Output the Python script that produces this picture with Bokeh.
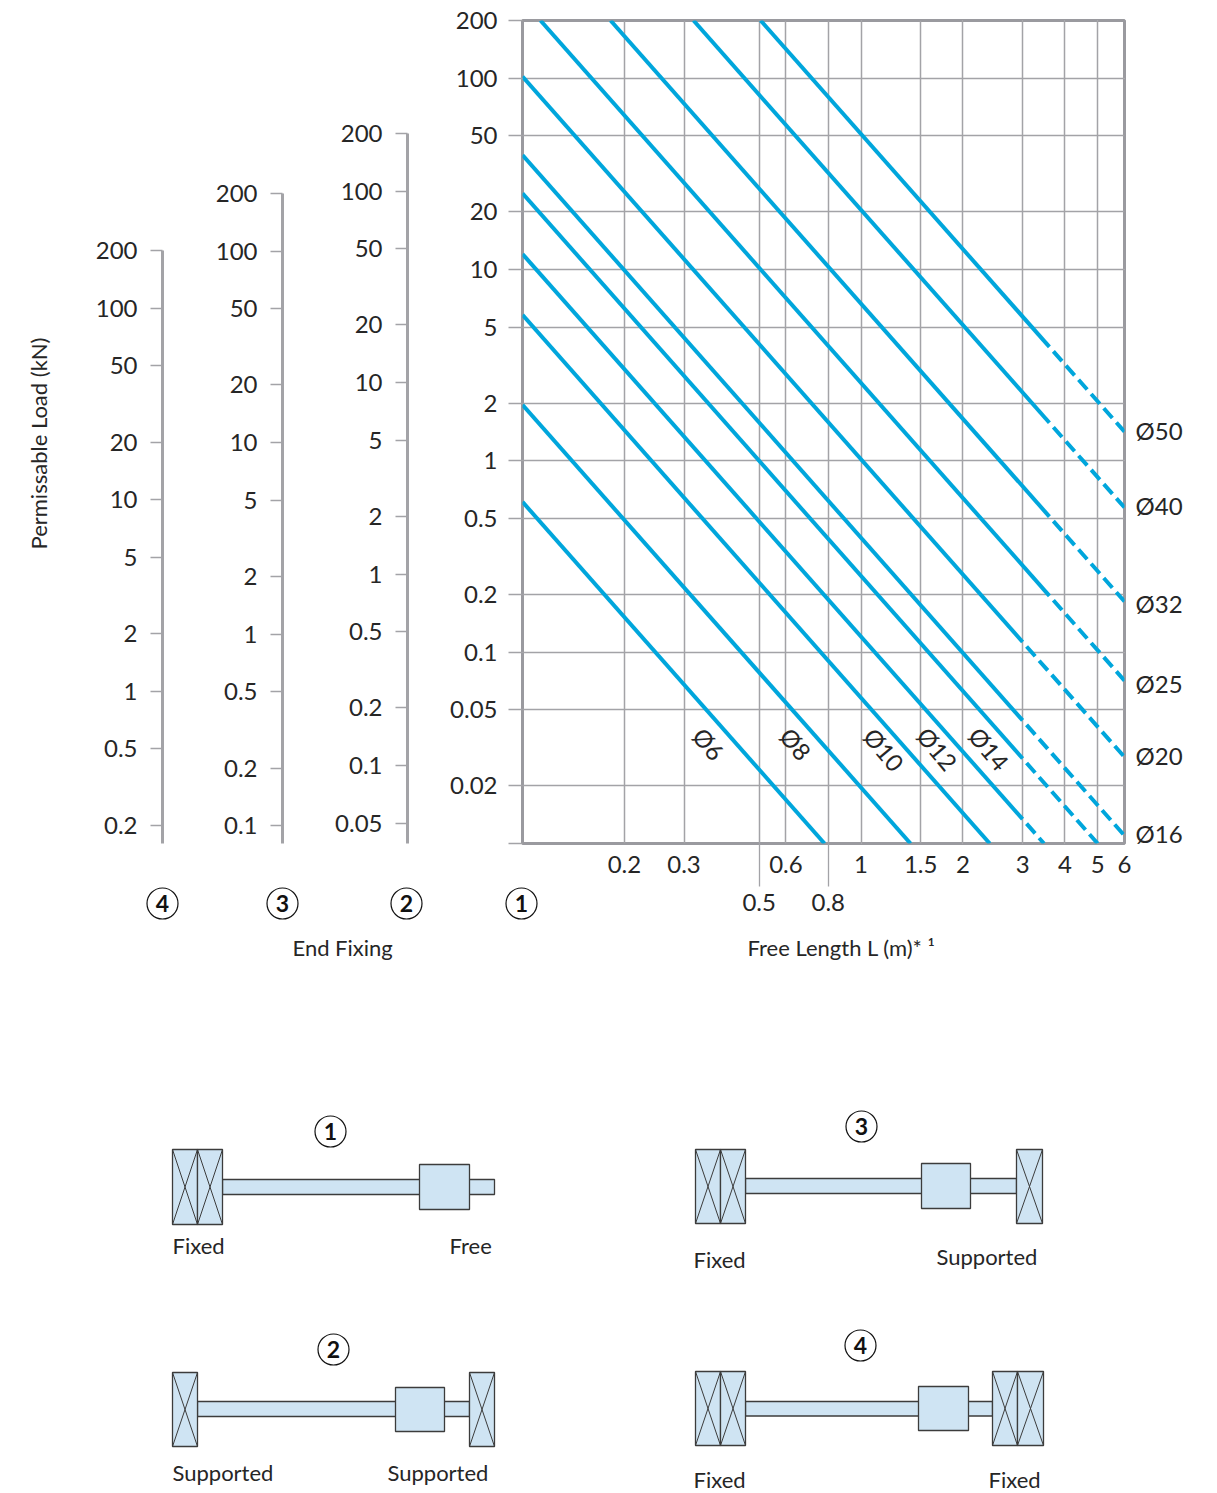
import math
from bokeh.embed import file_html
from bokeh.resources import INLINE
from bokeh.plotting import figure
from bokeh.layouts import column, row
from bokeh.models import LogAxis, FixedTicker, Grid, Label, Range1d
from bokeh.core.properties import value

# ---------- data ----------
diameters = ["Ø6", "Ø8", "Ø10", "Ø12", "Ø14", "Ø16", "Ø20", "Ø25", "Ø32", "Ø40", "Ø50"]
start_len = [0.1, 0.1, 0.1, 0.1, 0.1, 0.1, 0.1, 0.113, 0.182, 0.32, 0.505]
start_load = [0.61, 1.96, 5.79, 12.05, 25, 39.6, 102, 200, 200, 200, 200]
break_len = [0.78, 1.4, 2.4, 3, 3, 3, 3, 3.6, 3.6, 3.6, 3.6]
break_load = [0.01, 0.01, 0.01, 0.0134, 0.0278, 0.044, 0.113, 0.197, 0.511, 1.58, 3.94]
end_len = [None, None, None, 3.47, 5, 6, 6, 6, 6, 6, 6]
end_load = [None, None, None, 0.01, 0.01, 0.011, 0.0283, 0.071, 0.184, 0.57, 1.42]

inner_labels = ["Ø6", "Ø8", "Ø10", "Ø12", "Ø14"]
inner_len = [0.355, 0.642, 1.17, 1.68, 2.39]
inner_load = [0.0332, 0.0332, 0.031, 0.0313, 0.0313]
outer_labels = ["Ø50", "Ø40", "Ø32", "Ø25", "Ø20", "Ø16"]

main_ticks = [100, 50, 20, 10, 5, 2, 1, 0.5, 0.2, 0.1, 0.05, 0.02]
axis4_ticks = [200, 100, 50, 20, 10, 5, 2, 1, 0.5, 0.2]
axis3_ticks = [200, 100, 50, 20, 10, 5, 2, 1, 0.5, 0.2, 0.1]
axis2_ticks = [200, 100, 50, 20, 10, 5, 2, 1, 0.5, 0.2, 0.1, 0.05]
x_row1 = [0.2, 0.3, 0.6, 1, 1.5, 2, 3, 4, 5, 6]
x_row2 = [0.5, 0.8]

FONT = "Lato"
TXT = "#262626"
GREY = "#a3a3a7"
BLUE = "#00a6dc"
FS = "24px"
CAP = "22px"


def fmt(ticks):
    return {float(t): f"{t:g}" for t in ticks}


def side_axis(width, left, y_low, y_high, ticks, tick_len):
    f = figure(width=width, height=925, output_backend="svg", toolbar_location=None,
               x_axis_location=None, y_axis_location=None, y_axis_type="log",
               x_range=Range1d(0, 1), y_range=Range1d(y_low, y_high),
               min_border_left=left, min_border_top=20, min_border_right=0,
               min_border_bottom=82, outline_line_color=None)
    f.grid.visible = False
    ax = LogAxis(ticker=FixedTicker(ticks=ticks), major_label_overrides=fmt(ticks),
                 bounds=(y_low, 200),
                 axis_line_color=GREY, axis_line_width=3,
                 major_tick_line_color=GREY, major_tick_line_width=1.3,
                 major_tick_in=0, major_tick_out=tick_len, minor_tick_line_color=None,
                 major_label_standoff=13, major_label_text_font=FONT,
                 major_label_text_font_size=FS, major_label_text_color=TXT)
    f.add_layout(ax, "left")
    return f


fig4 = side_axis(200, 162, 0.1604, 3178, axis4_ticks, 12)
fig3 = side_axis(125, 82, 0.0807, 1600.6, axis3_ticks, 12)
fig2 = side_axis(105, 82, 0.03918, 778, axis2_ticks, 12)

main = figure(width=787, height=925, output_backend="svg", toolbar_location=None,
              x_axis_type="log", y_axis_type="log", x_axis_location=None, y_axis_location=None,
              x_range=Range1d(0.1, 6), y_range=Range1d(0.01, 200),
              min_border_left=92, min_border_right=93, min_border_top=20, min_border_bottom=82,
              outline_line_color="#9a9a9f", outline_line_width=3)

grid_x = sorted(x_row1 + x_row2)
main.add_layout(Grid(dimension=0, ticker=FixedTicker(ticks=[t for t in grid_x if t != 6]),
                     grid_line_color=GREY, grid_line_width=1.5))
main.add_layout(Grid(dimension=1, ticker=FixedTicker(ticks=main_ticks),
                     grid_line_color=GREY, grid_line_width=1.5))

y_ticks = [200] + main_ticks + [0.01]
y_over = fmt(y_ticks)
y_over[0.01] = ""
main.add_layout(LogAxis(ticker=FixedTicker(ticks=y_ticks), major_label_overrides=y_over,
                        axis_line_color=None, major_tick_line_color=GREY, major_tick_line_width=1.5,
                        major_tick_in=0, major_tick_out=14, minor_tick_line_color=None,
                        major_label_standoff=11, major_label_text_font=FONT,
                        major_label_text_font_size=FS, major_label_text_color=TXT), "left")

main.add_layout(LogAxis(ticker=FixedTicker(ticks=x_row1, minor_ticks=x_row2),
                        major_label_overrides=fmt(x_row1),
                        axis_line_color=None, major_tick_line_color=None,
                        major_tick_in=0, major_tick_out=0,
                        minor_tick_line_color=GREY, minor_tick_line_width=1.3,
                        minor_tick_in=0, minor_tick_out=43,
                        major_label_standoff=-31, major_label_text_font=FONT,
                        major_label_text_font_size=FS, major_label_text_color=TXT), "below")
main.add_layout(LogAxis(ticker=FixedTicker(ticks=x_row2), major_label_overrides=fmt(x_row2),
                        axis_line_color=None, major_tick_line_color=None, minor_tick_line_color=None,
                        major_tick_in=0, major_tick_out=0,
                        major_label_standoff=18, major_label_text_font=FONT,
                        major_label_text_font_size=FS, major_label_text_color=TXT), "below")

for i in range(len(diameters)):
    main.line([start_len[i], break_len[i]], [start_load[i], break_load[i]],
              line_color=BLUE, line_width=4)
    if end_len[i] is not None:
        main.line([break_len[i], end_len[i]], [break_load[i], end_load[i]],
                  line_color=BLUE, line_width=4, line_dash="13 6", line_dash_offset=13)

for t, x, y in zip(inner_labels, inner_len, inner_load):
    main.add_layout(Label(x=x, y=y, text=t, angle=-50, angle_units="deg", text_font=FONT,
                          text_font_size=FS, text_color=TXT, text_align="center",
                          text_baseline="middle"))

# ---------- transparent sheet over the page: captions, circled keys, mounting sketches ----------
low = figure(width=1217, height=1493, output_backend="svg", toolbar_location=None,
             x_range=Range1d(0, 1217), y_range=Range1d(1493, 0),
             x_axis_location=None, y_axis_location=None, min_border=0,
             outline_line_color=None, background_fill_color=None, border_fill_color=None,
             margin=(-925, 0, 0, 0))
low.grid.visible = False

FILL = "#cfe4f3"
EDGE = "#3c3c3c"

low.text([1135] * len(outer_labels), [430, 505, 603, 683, 755, 833], text=outer_labels,
         text_font=value(FONT), text_font_size=FS, text_color=TXT,
         text_align="left", text_baseline="middle")
low.text([38], [443], text=["Permissable Load (kN)"], angle=math.pi / 2, text_font=value(FONT),
         text_font_size=CAP, text_color=TXT, text_align="center", text_baseline="middle")

key_digit = ["4", "3", "2", "1", "1", "3", "2", "4"]
key_x = [162, 282, 406, 521, 330, 861, 333, 860]
key_y = [903, 903, 903, 903, 1131, 1126, 1349, 1345]
low.scatter(key_x, key_y, marker="circle", size=31, fill_color=None, line_color="#111111", line_width=1.2)
low.text(key_x, key_y, text=key_digit, text_font=value(FONT), text_font_style="bold", text_font_size="23px",
         text_color="#111111", text_align="center", text_baseline="middle")

cap_text = ["End Fixing", "Free Length L (m)* ¹", "Fixed", "Free", "Fixed", "Supported",
            "Supported", "Supported", "Fixed", "Fixed"]
cap_x = [292, 747, 172, 449, 693, 936, 172, 387, 693, 988]
cap_y = [947, 947, 1245, 1245, 1259, 1256, 1472, 1472, 1479, 1479]
low.text(cap_x, cap_y, text=cap_text, text_font=value(FONT), text_font_size=CAP,
         text_color=TXT, text_align="left", text_baseline="middle")

# sketch parts: left, right, top, bottom
shafts = [(222, 494, 1179, 1194), (745, 1016, 1178, 1193), (197, 469, 1401, 1416), (745, 992, 1401, 1415.5)]
nuts = [(419, 469, 1164, 1209), (921, 970, 1163, 1208), (395, 444, 1387, 1431), (918, 968, 1386, 1430)]
bearing_cells = [
    (172, 197, 1149, 1224), (197, 222, 1149, 1224),
    (695, 720, 1149, 1223), (720, 745, 1149, 1223), (1016, 1042, 1149, 1223),
    (172, 197, 1372, 1446), (469, 494, 1372, 1446),
    (695, 720, 1371, 1445), (720, 745, 1371, 1445), (992, 1017, 1371, 1445), (1017, 1043, 1371, 1445),
]


def boxes(items, edge, width):
    low.quad(left=[b[0] for b in items], right=[b[1] for b in items],
             top=[b[2] for b in items], bottom=[b[3] for b in items],
             fill_color=FILL, line_color=edge, line_width=width)


boxes(shafts, EDGE, 1.3)
boxes(nuts, EDGE, 1.3)
boxes(bearing_cells, EDGE, 1.3)
low.segment([b[0] for b in bearing_cells] + [b[1] for b in bearing_cells],
            [b[2] for b in bearing_cells] * 2,
            [b[1] for b in bearing_cells] + [b[0] for b in bearing_cells],
            [b[3] for b in bearing_cells] * 2,
            line_color=EDGE, line_width=1)

top_row = row(fig4, fig3, fig2, main, spacing=0)
page = column(top_row, low, spacing=0, margin=(0, 0, 0, 0))
open("out.html", "w").write(file_html(page, INLINE))
